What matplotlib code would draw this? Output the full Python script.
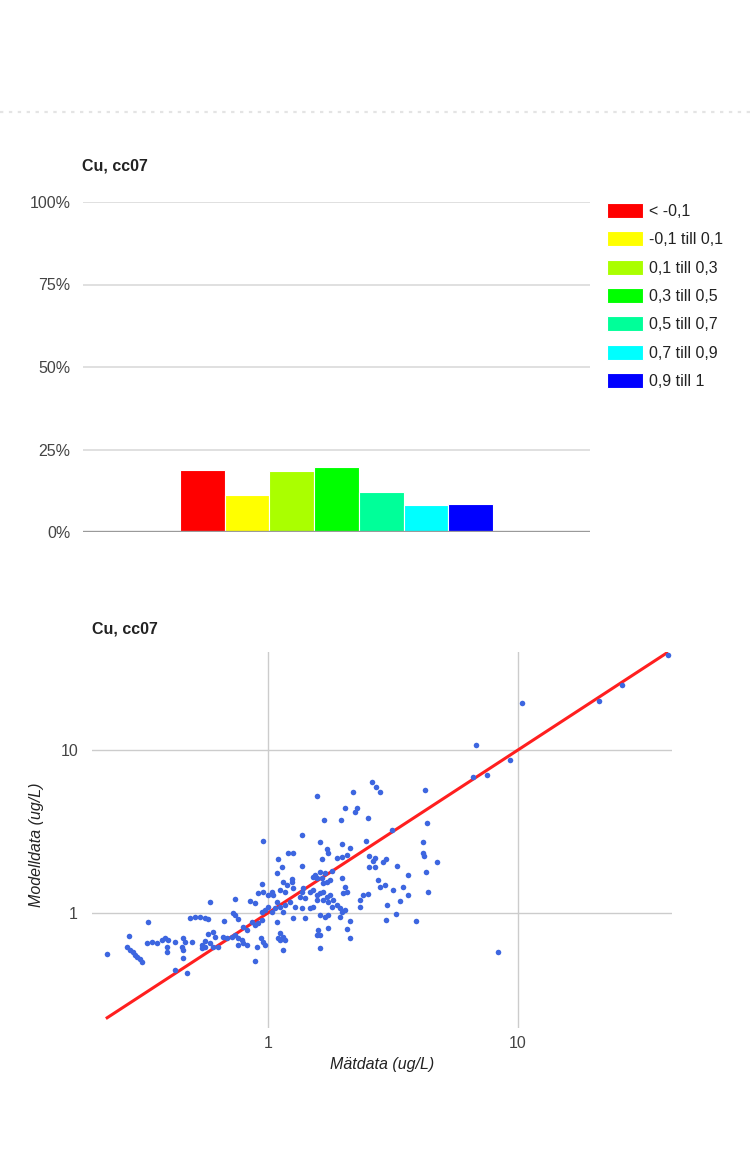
import numpy as np
import matplotlib
matplotlib.use('Agg')
from matplotlib import pyplot as plt
from matplotlib.ticker import FuncFormatter, NullLocator
from matplotlib.lines import Line2D

plt.rcParams['font.family'] = ['Liberation Sans', 'DejaVu Sans']

# --- bar chart data (share of stations per correlation class) ---
ranges = ['< -0,1', '-0,1 till 0,1', '0,1 till 0,3', '0,3 till 0,5',
          '0,5 till 0,7', '0,7 till 0,9', '0,9 till 1']
shares = [18.8, 11.2, 18.6, 19.8, 12.0, 8.2, 8.4]
colors = ['#ff0000', '#ffff00', '#aaff00', '#00ff00', '#00ff99', '#00ffff', '#0000ff']
pct_ticks = [0, 25, 50, 75, 100]

# --- scatter data: measured vs modelled (ug/L) ---
mat = [39.8, 26.1, 21.1, 10.4, 6.79, 9.29, 6.61, 7.52, 4.25, 2.81,
       2.61, 2.70, 1.57, 2.19, 2.03, 2.23, 2.27, 1.68, 1.96, 2.51,
       4.33, 3.13, 1.37, 0.955, 1.61, 1.98, 2.47, 4.17, 1.72, 1.74,
       2.13, 2.07, 1.20, 1.26, 1.10, 1.64, 1.89, 1.98, 2.54, 2.68,
       2.63, 2.97, 2.88, 4.17, 4.21, 4.74, 1.14, 1.37, 2.54, 2.68,
       3.28, 4.29, 1.09, 1.54, 1.61, 1.69, 1.80, 3.63, 1.57, 1.64,
       1.25, 1.15, 1.19, 1.25, 1.26, 1.17, 1.12, 1.38, 1.37, 1.34,
       1.41, 1.51, 1.77, 1.72, 1.66, 1.47, 1.51, 1.57, 1.61, 1.66,
       1.72, 1.77, 1.57, 1.66, 1.74, 1.82, 1.98, 2.03, 2.07, 2.00,
       1.05, 1.09, 1.12, 1.17, 1.23, 1.15, 1.07, 1.04, 1.28, 1.37,
       1.26, 1.41, 1.47, 1.51, 1.61, 1.69, 1.74, 1.80, 1.89, 1.94,
       1.98, 2.03, 1.94, 1.09, 2.33, 2.40, 2.51, 2.33, 2.75, 2.81,
       2.94, 3.16, 3.47, 3.63, 3.37, 2.99, 4.37, 3.25, 2.97, 3.91,
       2.13, 2.07, 2.13, 1.74, 1.59, 1.61, 1.57, 1.61, 1.12, 1.10,
       1.15, 1.12, 1.17, 1.15, 8.32, 0.946, 0.912, 0.955, 1.00, 1.04,
       0.847, 0.887, 0.738, 0.586, 1.00, 0.973, 0.946, 0.724, 0.738, 0.488,
       0.511, 0.535, 0.560, 0.575, 0.667, 0.759, 0.331, 0.863, 0.887, 0.912,
       0.946, 0.794, 0.824, 0.278, 0.575, 0.603, 0.614, 0.661, 0.686, 0.718,
       0.738, 0.759, 0.787, 0.560, 0.586, 0.938, 0.955, 0.328, 0.344, 0.360,
       0.377, 0.387, 0.398, 0.425, 0.457, 0.466, 0.497, 0.545, 0.603, 0.631,
       0.759, 0.794, 0.824, 0.904, 0.973, 0.273, 0.281, 0.288, 0.294, 0.299,
       0.308, 0.313, 0.394, 0.394, 0.453, 0.457, 0.545, 0.560, 0.227, 0.457,
       0.887, 0.425, 0.474]
modell = [38.3, 25.0, 20.0, 19.4, 10.7, 8.69, 6.83, 7.03, 5.68, 5.52,
          6.36, 5.93, 5.22, 5.52, 4.41, 4.17, 4.41, 3.72, 3.72, 3.83,
          3.57, 3.23, 3.01, 2.77, 2.73, 2.65, 2.77, 2.73, 2.47, 2.33,
          2.50, 2.27, 2.33, 2.33, 2.14, 2.14, 2.18, 2.21, 2.24, 2.18,
          2.08, 2.14, 2.05, 2.33, 2.24, 2.05, 1.92, 1.94, 1.92, 1.92,
          1.94, 1.78, 1.76, 1.71, 1.78, 1.76, 1.81, 1.71, 1.64, 1.64,
          1.62, 1.55, 1.48, 1.55, 1.42, 1.35, 1.38, 1.42, 1.35, 1.25,
          1.24, 1.66, 1.59, 1.55, 1.53, 1.35, 1.38, 1.29, 1.33, 1.35,
          1.25, 1.29, 1.20, 1.20, 1.17, 1.20, 1.64, 1.44, 1.35, 1.33,
          1.29, 1.17, 1.09, 1.12, 1.17, 1.01, 1.07, 1.01, 1.09, 1.07,
          0.93, 0.93, 1.07, 1.09, 0.97, 0.94, 0.97, 1.09, 1.12, 1.07,
          1.01, 1.04, 0.94, 0.88, 1.20, 1.29, 1.31, 1.09, 1.59, 1.44,
          1.48, 1.38, 1.44, 1.29, 1.18, 1.12, 1.35, 0.99, 0.91, 0.89,
          0.89, 0.80, 0.70, 0.81, 0.79, 0.73, 0.73, 0.61, 0.75, 0.70,
          0.71, 0.68, 0.68, 0.59, 0.58, 1.51, 1.33, 1.35, 1.29, 1.35,
          1.18, 1.15, 1.22, 1.17, 1.09, 1.04, 1.01, 1.00, 0.97, 0.93,
          0.94, 0.94, 0.93, 0.92, 0.89, 0.92, 0.88, 0.88, 0.84, 0.87,
          0.91, 0.82, 0.79, 0.72, 0.74, 0.76, 0.71, 0.71, 0.70, 0.71,
          0.73, 0.70, 0.68, 0.67, 0.65, 0.70, 0.66, 0.65, 0.66, 0.65,
          0.68, 0.70, 0.68, 0.66, 0.70, 0.66, 0.66, 0.64, 0.62, 0.62,
          0.64, 0.65, 0.64, 0.62, 0.64, 0.62, 0.59, 0.58, 0.55, 0.54,
          0.52, 0.50, 0.58, 0.62, 0.62, 0.59, 0.61, 0.62, 0.56, 0.53,
          0.51, 0.45, 0.43]
fit_range = [0.225, 39.8]   # 1:1 line end points
log_ticks = [1, 10]

W, H = 754, 1153
fig = plt.figure(figsize=(W / 100, H / 100), dpi=100)


def box(left, top, right, bottom):
    # pixel box -> figure fraction
    return [left / W, 1 - bottom / H, (right - left) / W, (bottom - top) / H]


# faint, cut-off header text line at the very top
fig.add_artist(Line2D([0, 1], [1 - 112 / H] * 2, color='#e4e4e4', lw=1.6,
                      ls=(0, (1.5, 2.5))))

# ---------- bar chart ----------
ax1 = fig.add_axes(box(83, 202, 590, 532))
pos = np.arange(len(shares))
bars = ax1.bar(pos, shares, width=1.0, color=colors, edgecolor='white',
               linewidth=0.8, zorder=3)
ax1.set_ylim(0, 100)
ax1.set_xlim(pos.mean() - 5.67, pos.mean() + 5.67)
ax1.set_yticks(pct_ticks)
ax1.yaxis.set_major_formatter(FuncFormatter(lambda v, p: f'{v:.0f}%'))
ax1.set_xticks([])
ax1.grid(axis='y', color='#dddddd', lw=1.3, zorder=0)
ax1.axhline(0, color='#9a9a9a', lw=2.4, zorder=4)
for s in ax1.spines.values():
    s.set_visible(False)
ax1.tick_params(axis='y', length=0, pad=9, labelsize=11.5, labelcolor='#444444')
fig.text(82 / W, 1 - 166 / H, 'Cu, cc07', fontsize=11.5, fontweight='bold',
         color='#222222', va='center', ha='left')

ax1.legend(bars, ranges, loc='upper left', bbox_to_anchor=(607 / W, 1 - 203 / H),
           bbox_transform=fig.transFigure, frameon=False, fontsize=11.5,
           handlelength=2.25, handleheight=1.06, labelspacing=0.78,
           handletextpad=0.4, borderpad=0, borderaxespad=0,
           labelcolor='#222222')

# ---------- scatter ----------
ax2 = fig.add_axes(box(92, 652, 672, 1028))
ax2.set_xscale('log')
ax2.set_yscale('log')
ax2.set_xlim(0.198, 41.3)
ax2.set_ylim(0.197, 39.9)
ax2.plot(fit_range, fit_range, color='#ff1f1f', lw=2.2, zorder=3,
         solid_capstyle='butt')
ax2.scatter(mat, modell, s=16, color='#3d66e0', lw=0, zorder=4)
ax2.set_xticks(log_ticks)
ax2.set_yticks(log_ticks)
ax2.set_xticklabels([str(t) for t in log_ticks])
ax2.set_yticklabels([str(t) for t in log_ticks])
ax2.xaxis.set_minor_locator(NullLocator())
ax2.yaxis.set_minor_locator(NullLocator())
ax2.grid(which='major', color='#cccccc', lw=1.0, zorder=0)
for s in ax2.spines.values():
    s.set_visible(False)
ax2.tick_params(axis='x', length=0, pad=6, labelsize=11.5, labelcolor='#444444')
ax2.tick_params(axis='y', length=0, pad=10, labelsize=11.5, labelcolor='#444444')

fig.text(92 / W, 1 - 629 / H, 'Cu, cc07', fontsize=11.5, fontweight='bold',
         color='#222222', va='center', ha='left')
fig.text(382 / W, 1 - 1065 / H, 'Mätdata (ug/L)', fontsize=11.5, style='italic',
         color='#222222', va='center', ha='center')
fig.text(37 / W, 1 - 845 / H, 'Modelldata (ug/L)', fontsize=11.5, style='italic',
         color='#222222', va='center', ha='center', rotation=90)

fig.savefig('out.png', dpi=100)
